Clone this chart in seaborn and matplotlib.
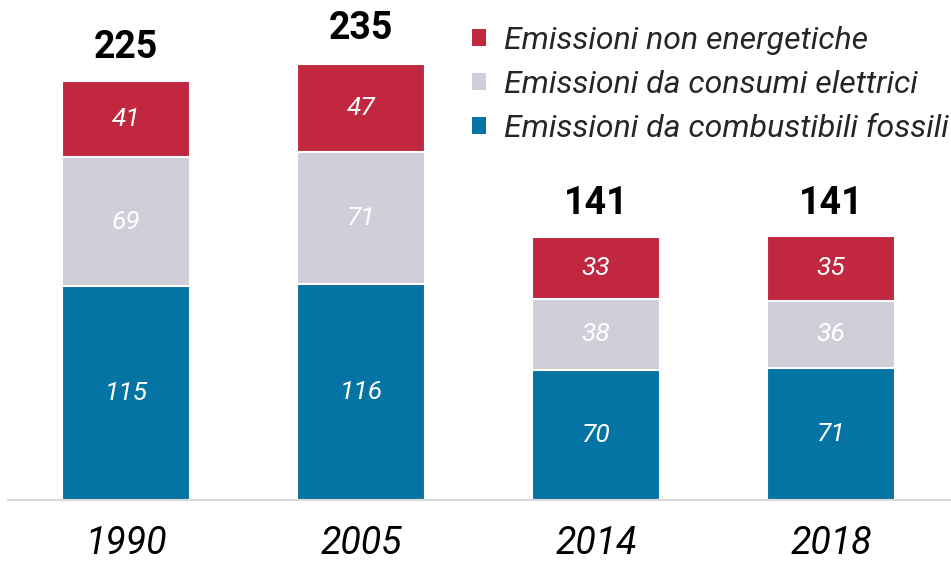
import numpy as np
import pandas as pd
import matplotlib
matplotlib.use("Agg")
import matplotlib.pyplot as plt
import seaborn as sns
from matplotlib.patches import Patch

sns.set_style("white")
plt.rcParams["font.family"] = ["Roboto", "DejaVu Sans"]

# dati
anni = ["1990", "2005", "2014", "2018"]
fossili = [115, 116, 70, 71]
elettrici = [69, 71, 38, 36]
non_energetiche = [41, 47, 33, 35]
totali = [225, 235, 141, 141]

serie = ["Emissioni non energetiche", "Emissioni da consumi elettrici", "Emissioni da combustibili fossili"]
colori = ["#C1273F", "#CFCED9", "#0474A4"]

df = pd.DataFrame({"anno": anni, "fossili": fossili, "elettrici": elettrici, "non_en": non_energetiche})
df["cum_fossili"] = df["fossili"]
df["cum_elettrici"] = df["fossili"] + df["elettrici"]
df["cum_tot"] = df["cum_elettrici"] + df["non_en"]

fig = plt.figure(figsize=(9.51, 5.61), dpi=100)
ax = fig.add_axes([8 / 951, 61 / 561, 1 - 8 / 951, 500 / 561])

# barre impilate: dal totale verso il basso
for col, c in [("cum_tot", colori[0]), ("cum_elettrici", colori[1]), ("cum_fossili", colori[2])]:
    sns.barplot(data=df, x="anno", y=col, color=c, width=0.545, saturation=1,
                edgecolor="white", linewidth=1.5, ax=ax)

ax.set_xlim(-0.502, 3.51)
ax.set_ylim(0, 268.5)

# etichette dentro i segmenti
for i in range(len(anni)):
    ax.text(i, fossili[i] / 2, str(fossili[i]), ha="center", va="center",
            color="white", fontsize=19, style="italic")
    ax.text(i, fossili[i] + elettrici[i] / 2, str(elettrici[i]), ha="center", va="center",
            color="white", fontsize=19, style="italic")
    ax.text(i, fossili[i] + elettrici[i] + non_energetiche[i] / 2, str(non_energetiche[i]),
            ha="center", va="center", color="white", fontsize=19, style="italic")
    ax.text(i, totali[i] + 18, str(totali[i]), ha="center", va="center",
            color="black", fontsize=27, fontweight="bold")

ax.set_xlabel("")
ax.set_ylabel("")
ax.set_yticks([])
ax.tick_params(axis="x", length=0, pad=18)
for lab in ax.get_xticklabels():
    lab.set_fontsize(27)
    lab.set_style("italic")
    lab.set_color("black")
for s in ["top", "right", "left"]:
    ax.spines[s].set_visible(False)
ax.spines["bottom"].set_color("#D9D9D9")
ax.spines["bottom"].set_linewidth(1.5)

handles = [Patch(facecolor=c, edgecolor="none") for c in colori]
leg = fig.legend(handles, serie, loc="upper left", bbox_to_anchor=(443 / 951, 1 + 3 / 561),
                 frameon=False, handlelength=0.45, handleheight=0.45, handletextpad=0.55,
                 labelspacing=0.47, prop={"style": "italic", "size": 23})

fig.savefig("out.png", dpi=100)
